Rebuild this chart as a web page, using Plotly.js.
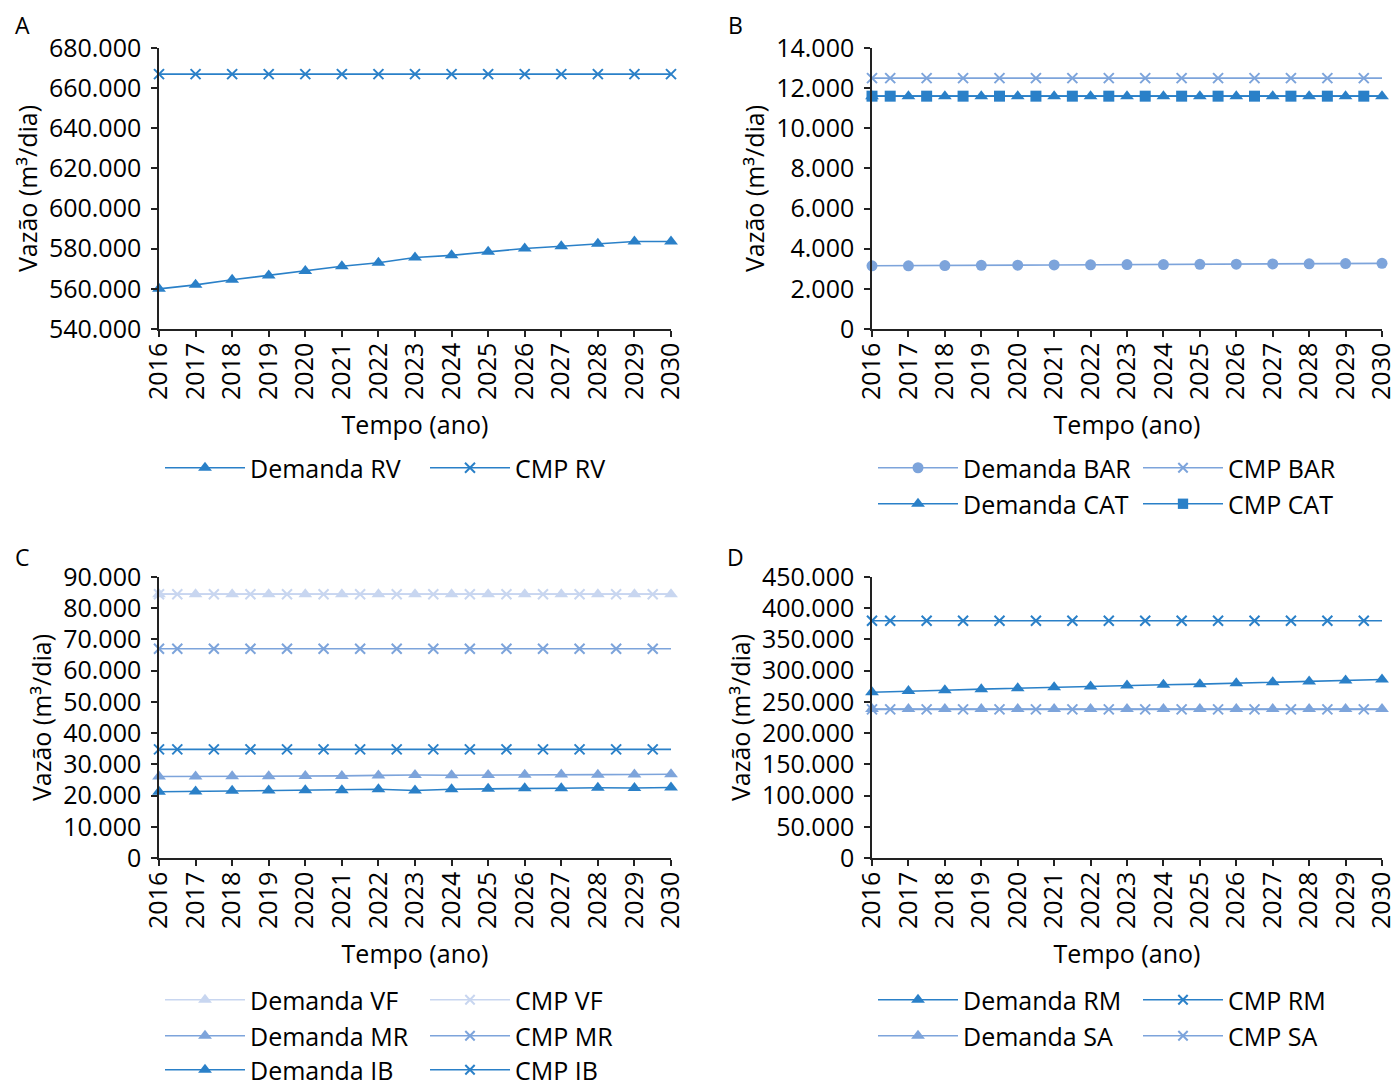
<!DOCTYPE html>
<html><head><meta charset="utf-8">
<script src="https://cdn.plot.ly/plotly-3.0.1.min.js"></script>
<style>
html,body{margin:0;padding:0;background:#fff;}
#chart{position:absolute;left:0;top:0;width:1394px;height:1084px;overflow:hidden}
</style>
</head><body><div id="chart"></div>
<script>
// ---- data ----
const years = [2016,2017,2018,2019,2020,2021,2022,2023,2024,2025,2026,2027,2028,2029,2030];
const cmpYears = [2016,2016.5,2017.5,2018.5,2019.5,2020.5,2021.5,2022.5,2023.5,2024.5,2025.5,2026.5,2027.5,2028.5,2029.5,2030];

// Panel A
const demandaRV = [560000,562000,564500,566700,568900,571300,573000,575600,576700,578500,580100,581200,582500,583600,583600];
const cmpRV = [667000,667000,667000,667000,667000,667000,667000,667000,667000,667000,667000,667000,667000,667000,667000];

// Panel B
const demandaBAR = [3150,3150,3160,3170,3180,3190,3200,3210,3210,3220,3230,3240,3250,3260,3270];
const cmpBAR = [12500,12500,12500,12500,12500,12500,12500,12500,12500,12500,12500,12500,12500,12500,12500,12500];
const demandaCAT = [11600,11600,11600,11600,11600,11600,11600,11600,11600,11600,11600,11600,11600,11600,11600];
const cmpCAT = [11600,11600,11600,11600,11600,11600,11600,11600,11600,11600,11600,11600,11600,11600,11600,11600];

// Panel C
const demandaVF = [84500,84500,84500,84500,84500,84500,84500,84500,84500,84500,84500,84500,84500,84500,84500];
const cmpVF = [84500,84500,84500,84500,84500,84500,84500,84500,84500,84500,84500,84500,84500,84500,84500,84500];
const demandaMR = [26100,26100,26150,26200,26250,26300,26450,26600,26500,26600,26700,26750,26700,26750,26800];
const cmpMR = [67000,67000,67000,67000,67000,67000,67000,67000,67000,67000,67000,67000,67000,67000,67000,67000];
const demandaIB = [21200,21300,21500,21600,21700,21700,22000,21600,22000,22150,22350,22350,22500,22400,22600];
const cmpIB = [34800,34800,34800,34800,34800,34800,34800,34800,34800,34800,34800,34800,34800,34800,34800,34800];

// Panel D
const demandaRM = [265500,267600,268700,270400,272000,273600,274700,276300,277400,278400,280000,281600,282700,284300,285900];
const cmpRM = [380000,380000,380000,380000,380000,380000,380000,380000,380000,380000,380000,380000,380000,380000,380000,380000];
const demandaSA = [238500,238500,238500,238500,238500,238500,238500,238500,238500,238500,238500,238500,238500,238500,238500];
const cmpSA = [238000,238000,238000,238000,238000,238000,238000,238000,238000,238000,238000,238000,238000,238000,238000,238000];

// ---- styles ----
const W = 1394, H = 1084;
const FONT = 'Open Sans, Noto Sans, sans-serif';
const FS = 25;
const dark = '#2A80C8', mid = '#7DA4DB', light = '#C8D6F0';

function px2x(p){ return p / W; }
function px2y(p){ return 1 - p / H; }

// marker size array hiding the final (edge) point of CMP series
function cmpSizes(n, s){ const a = []; for (let i = 0; i < n; i++) a.push(i === n - 1 ? 0 : s); return a; }

function demanda(name, y, color, symbol, xa, ya, legend, size){
  return {type:'scatter', mode:'lines+markers', name, x: years, y, xaxis: xa, yaxis: ya, legend,
    line:{color, width:1.6}, marker:{symbol, size: size || 12, color}, cliponaxis:false};
}
function cmp(name, x, y, color, symbol, xa, ya, legend, hideLast){
  const isX = symbol === 'x-thin';
  const sz = isX ? 10 : 11;
  return {type:'scatter', mode:'lines+markers', name, x, y, xaxis: xa, yaxis: ya, legend,
    line:{color, width:1.6},
    marker:{symbol, size: hideLast ? cmpSizes(x.length, sz) : sz, color, opacity:1, line:{color, width: isX ? 2 : 0}},
    cliponaxis:false};
}

const traces = [
  demanda('Demanda RV', demandaRV, dark, 'triangle-up', 'x', 'y', 'legend'),
  cmp('CMP RV', years, cmpRV, dark, 'x-thin', 'x', 'y', 'legend', false),

  demanda('Demanda BAR', demandaBAR, mid, 'circle', 'x2', 'y2', 'legend2', 11),
  cmp('CMP BAR', cmpYears, cmpBAR, mid, 'x-thin', 'x2', 'y2', 'legend2', true),
  demanda('Demanda CAT', demandaCAT, dark, 'triangle-up', 'x2', 'y2', 'legend3'),
  cmp('CMP CAT', cmpYears, cmpCAT, dark, 'square', 'x2', 'y2', 'legend3', true),

  demanda('Demanda VF', demandaVF, light, 'triangle-up', 'x3', 'y3', 'legend4'),
  cmp('CMP VF', cmpYears, cmpVF, light, 'x-thin', 'x3', 'y3', 'legend4', true),
  demanda('Demanda MR', demandaMR, mid, 'triangle-up', 'x3', 'y3', 'legend5'),
  cmp('CMP MR', cmpYears, cmpMR, mid, 'x-thin', 'x3', 'y3', 'legend5', true),
  demanda('Demanda IB', demandaIB, dark, 'triangle-up', 'x3', 'y3', 'legend6'),
  cmp('CMP IB', cmpYears, cmpIB, dark, 'x-thin', 'x3', 'y3', 'legend6', true),

  demanda('Demanda RM', demandaRM, dark, 'triangle-up', 'x4', 'y4', 'legend7'),
  cmp('CMP RM', cmpYears, cmpRM, dark, 'x-thin', 'x4', 'y4', 'legend7', true),
  demanda('Demanda SA', demandaSA, mid, 'triangle-up', 'x4', 'y4', 'legend8'),
  cmp('CMP SA', cmpYears, cmpSA, mid, 'x-thin', 'x4', 'y4', 'legend8', true)
];

function xax(l, r, anchor){
  return {domain:[px2x(l), px2x(r)], anchor, range:[2016, 2030], tickmode:'array', tickvals: years,
    tickformat:'d', tickangle:-90, ticks:'outside', ticklen:6, tickwidth:1.5, tickcolor:'#222',
    ticklabelstandoff:-4, ticklabeloverflow:'allow',
    showline:true, linecolor:'#222', linewidth:1.5, showgrid:false, zeroline:false,
    tickfont:{size:FS, color:'#000'}, title:{text:'Tempo (ano)', font:{size:FS, color:'#000'}, standoff:18},
    fixedrange:true};
}
function yax(t, b, anchor, range, dtick){
  return {domain:[px2y(b), px2y(t)], anchor, range, dtick, tick0:0, tickformat:',d',
    ticks:'outside', ticklen:6, tickwidth:1.5, tickcolor:'#222', ticklabelstandoff:5,
    showline:true, linecolor:'#222', linewidth:1.5, showgrid:false, zeroline:false,
    tickfont:{size:FS, color:'#000'}, title:{text:'Vazão (m³/dia)', font:{size:FS, color:'#000'}, standoff:4},
    fixedrange:true};
}

function leg(lx, cy){
  return {orientation:'h', x: px2x(lx), xanchor:'left', y: px2y(cy), yanchor:'middle',
    font:{size:FS, color:'#000'}, itemwidth:80, entrywidth:170, entrywidthmode:'pixels',
    bgcolor:'rgba(0,0,0,0)', borderwidth:0, tracegroupgap:0, itemclick:false, itemdoubleclick:false};
}

const LX_L = 160, LX_R = 873;
function letter(t, x, y){
  return {text:t, x: px2x(x), y: px2y(y), xref:'paper', yref:'paper', xanchor:'center', yanchor:'middle',
    showarrow:false, font:{size:23, color:'#000'}};
}
const layout = {
  width: W, height: H, margin:{l:0, r:0, t:0, b:0, autoexpand:false}, paper_bgcolor:'#fff', plot_bgcolor:'#fff',
  font:{family: FONT, size: FS, color:'#000'}, separators:',.', showlegend:true,
  xaxis: xax(159, 671, 'y'),  yaxis: yax(48, 329, 'x', [540000, 680000], 20000),
  xaxis2: xax(872, 1382, 'y2'), yaxis2: yax(48, 329, 'x2', [0, 14000], 2000),
  xaxis3: xax(159, 671, 'y3'), yaxis3: yax(577, 858, 'x3', [0, 90000], 10000),
  xaxis4: xax(872, 1382, 'y4'), yaxis4: yax(577, 858, 'x4', [0, 450000], 50000),
  legend: leg(LX_L, 468),
  legend2: leg(LX_R, 468), legend3: leg(LX_R, 504),
  legend4: leg(LX_L, 1000), legend5: leg(LX_L, 1036), legend6: leg(LX_L, 1070),
  legend7: leg(LX_R, 1000), legend8: leg(LX_R, 1036),
  annotations: [letter('A', 22, 25), letter('B', 735, 25), letter('C', 22, 557), letter('D', 735, 557)]
};

Plotly.newPlot('chart', traces, layout, {displayModeBar:false});
</script>
</body></html>
